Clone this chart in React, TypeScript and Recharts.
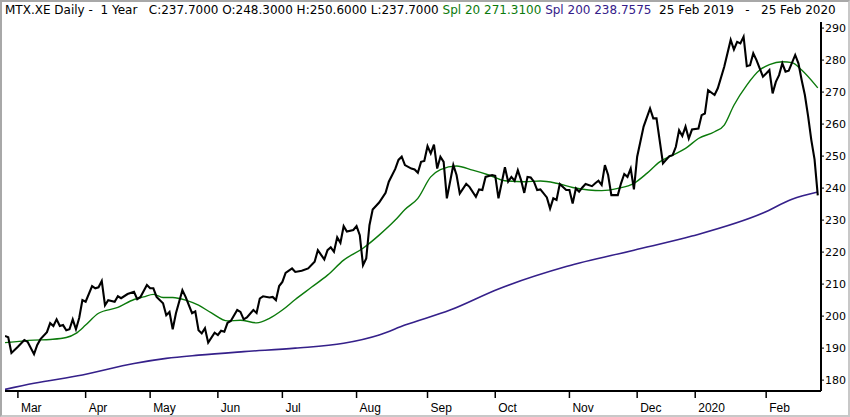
import { LineChart, Line, XAxis, YAxis } from "recharts";

// [trading day index, value] (day 0 = 25 Feb 2019)
const closePts: [number, number][] = [
  [0, 193.8], [1, 193.4], [2, 188.5], [4, 190.4], [6, 192.5], [7, 192], [9, 188.1], [10, 191],
  [11, 192.8], [13, 195], [14, 197.8], [15, 196.9], [16, 199], [17, 196.9], [18, 197.2], [19, 195.6],
  [20, 195.9], [21, 199], [22, 195.9], [23, 199.4], [24, 205], [25, 204.5], [27, 209.4], [28, 208.7],
  [29, 209], [30, 211], [31, 203.4], [32, 205], [34, 204.5], [35, 206.2], [36, 205.6], [38, 206.9],
  [40, 207.6], [41, 205.3], [42, 206], [44, 209.7], [45, 208.7], [46, 208.7], [47, 206], [49, 204],
  [50, 200.3], [51, 201.3], [52, 195.9], [53, 200.9], [55, 208.1], [56, 206], [57, 203.4], [58, 200.9],
  [59, 201.5], [60, 195.6], [61, 194.6], [62, 196.2], [63, 191.7], [65, 194.8], [66, 194.1], [67, 195.4],
  [68, 195.1], [69, 197.9], [70, 198.5], [72, 201.9], [73, 201.3], [74, 199], [75, 199.6], [77, 201.9],
  [78, 201], [79, 205.5], [80, 206.2], [82, 205.8], [83, 206], [84, 205], [85, 209.4], [86, 210.7],
  [87, 213.5], [89, 214.9], [90, 213.8], [92, 214.2], [94, 214.9], [96, 217], [97, 220.6], [99, 217.7],
  [100, 220.6], [101, 221.5], [102, 220.1], [103, 224.6], [104, 222.9], [105, 228.1], [106, 226.4],
  [108, 226.9], [109, 228.1], [110, 225.3], [111, 215.9], [112, 218], [113, 228.4], [114, 233.3],
  [116, 235.5], [118, 238.5], [119, 242], [121, 246], [122, 248.8], [123, 249.8], [124, 247.2],
  [126, 246.1], [127, 245.8], [128, 244.8], [129, 248.2], [130, 248.5], [131, 253.1], [132, 250.8],
  [133, 253.6], [134, 246.1], [135, 249.8], [136, 248.2], [137, 236.8], [139, 247.2], [140, 244.1],
  [141, 238.3], [143, 241.3], [144, 240.4], [146, 237.3], [147, 239.6], [148, 239.4], [149, 243.5],
  [151, 244.1], [152, 243.8], [153, 236.8], [155, 246.5], [156, 242], [157, 243.5], [158, 242.3],
  [159, 245.6], [160, 242.5], [161, 238.5], [162, 243.5], [163, 243.3], [164, 242], [165, 239.4],
  [166, 239.6], [168, 237.1], [169, 233.6], [170, 236.8], [171, 236.3], [172, 241.3], [174, 239.4],
  [175, 239.4], [176, 235.2], [177, 239.9], [178, 238.9], [179, 240.2], [180, 241.3], [182, 240.6],
  [183, 241.5], [184, 242.3], [185, 241], [186, 247.2], [187, 244.1], [188, 237.8], [190, 237.8],
  [191, 241.5], [192, 244.4], [193, 243.5], [194, 246.1], [195, 239.6], [196, 249.8], [198, 259.2],
  [200, 264.9], [201, 261.8], [202, 261.8], [204, 247.7], [206, 250], [207, 250.3], [208, 252.9],
  [209, 258.1], [210, 256.3], [211, 259.2], [212, 255.5], [213, 258.3], [215, 258.6], [216, 262.8],
  [217, 263.3], [218, 270.6], [220, 269.1], [221, 271.2], [223, 277.9], [225, 286.3], [226, 283.3],
  [227, 285.7], [228, 285.2], [229, 287.3], [230, 278.1], [231, 278.4], [232, 282.1], [233, 280],
  [235, 274.8], [236, 275.8], [237, 276.9], [238, 269.6], [239, 273.2], [240, 275.3], [241, 279],
  [242, 276.4], [243, 276.7], [245, 281.6], [246, 279], [247, 273.8], [248, 269.1], [249, 262.5],
  [250, 255], [251, 249], [252, 237.7],
];

const spl20Pts: [number, number][] = [
  [0, 191.7], [9, 192.5], [14, 192.7], [19, 193.3], [22, 194.6], [25, 197.2], [29, 200.9], [35, 202.7],
  [40, 205.2], [43, 206], [46, 206.8], [49, 205.8], [52, 205.8], [56, 205], [60, 203.4], [64, 201],
  [69, 198.5], [73, 198.7], [78, 197.9], [82, 199.3], [86, 201.9], [90, 205.2], [95, 209], [100, 212.8],
  [105, 217.5], [111, 221.2], [116, 225.3], [121, 230], [124, 233.3], [128, 236.8], [132, 243.5],
  [135, 245.8], [140, 246.9], [145, 245.6], [150, 244.1], [155, 242.3], [161, 242], [166, 242.2],
  [171, 241.5], [176, 240.2], [181, 239.4], [185, 239.2], [190, 239.9], [195, 241.5], [199, 244.6],
  [203, 248.2], [207, 250.3], [211, 252.4], [215, 255.5], [220, 257.6], [223, 259.7], [226, 265.9],
  [230, 272.2], [234, 276.9], [237, 278.6], [241, 279.5], [244, 279.2], [247, 276.9], [252, 271.31],
];

const spl200Pts: [number, number][] = [
  [0, 177.1], [9, 179], [24, 181.6], [40, 185.2], [50, 186.8], [60, 187.8], [74, 188.9], [90, 190],
  [105, 191.5], [116, 194.1], [124, 197.2], [138, 201.9], [153, 208.5], [174, 215.5], [195, 220.6],
  [213, 225], [235, 232.2], [244, 236.5], [252, 238.76],
];

const monthTicks = [4, 25, 45, 66, 86, 109, 131, 152, 175, 196, 214, 236];
const monthLabels = ["Mar", "Apr", "May", "Jun", "Jul", "Aug", "Sep", "Oct", "Nov", "Dec", "2020", "Feb"];
const priceTicks = [180, 190, 200, 210, 220, 230, 240, 250, 260, 270, 280, 290];

type Row = { day: number; close?: number; spl20?: number; spl200?: number };

const rowMap = new Map<number, Row>();
const put = (pts: [number, number][], key: "close" | "spl20" | "spl200") => {
  pts.forEach(([d, v]) => {
    const r = rowMap.get(d) ?? { day: d };
    r[key] = v;
    rowMap.set(d, r);
  });
};
put(closePts, "close");
put(spl20Pts, "spl20");
put(spl200Pts, "spl200");
const rows = [...rowMap.values()].sort((a, b) => a.day - b.day);

const FONT = "'DejaVu Sans', Verdana, sans-serif";
const GREEN = "#0b7a0b";
const PURPLE = "#35208a";

function XTick({ x, y, payload }: any) {
  const i = monthTicks.indexOf(payload.value);
  return (
    <text x={x + 3} y={y + 13.5} fontSize={12} fontFamily="'Liberation Sans Narrow', 'Liberation Sans', sans-serif" fill="#000" textAnchor="start">
      {monthLabels[i]}
    </text>
  );
}

function YTick({ x, y, payload }: any) {
  return (
    <text x={x} y={y + 4} fontSize={11} fontFamily={FONT} fill="#000" textAnchor="start">
      {payload.value}
    </text>
  );
}

export default function App() {
  return (
    <div style={{ position: "absolute", left: 0, top: 0, width: 850, height: 417, background: "#fff", overflow: "hidden" }}>
      <div style={{ position: "absolute", left: 5, top: 3, fontSize: 12, fontFamily: FONT, whiteSpace: "pre", lineHeight: "14px", color: "#000" }}>
        {"MTX.XE Daily -  1 Year   C:237.7000 O:248.3000 H:250.6000 L:237.7000 "}
        <span style={{ color: GREEN }}>Spl 20 271.3100</span>{" "}
        <span style={{ color: PURPLE }}>Spl 200 238.7575</span>
        {"  25 Feb 2019   -   25 Feb 2020"}
      </div>

      <div style={{ position: "absolute", left: 0, top: 0 }}>
        <LineChart width={850} height={417} data={rows} margin={{ top: 22, right: 0, left: 5, bottom: 0 }}>
          <XAxis
            dataKey="day"
            type="number"
            domain={[0, 253]}
            allowDataOverflow
            ticks={monthTicks}
            interval={0}
            tick={<XTick />}
            tickSize={7}
            tickMargin={0}
            height={26}
            axisLine={{ stroke: "#000", strokeWidth: 2 }}
            tickLine={{ stroke: "#000", strokeWidth: 1.5 }}
          />
          <YAxis
            orientation="right"
            type="number"
            domain={[176.6, 291.9]}
            allowDataOverflow
            ticks={priceTicks}
            interval={0}
            tick={<YTick />}
            tickSize={3}
            tickMargin={1}
            width={29}
            axisLine={{ stroke: "#000", strokeWidth: 2 }}
            tickLine={{ stroke: "#000", strokeWidth: 1 }}
          />
          <Line dataKey="spl200" type="monotone" stroke={PURPLE} strokeWidth={1.6} dot={false} connectNulls isAnimationActive={false} />
          <Line dataKey="spl20" type="monotone" stroke={GREEN} strokeWidth={1.4} dot={false} connectNulls isAnimationActive={false} />
          <Line dataKey="close" type="linear" stroke="#000" strokeWidth={2.1} dot={false} connectNulls isAnimationActive={false} />
        </LineChart>
      </div>

      <div style={{ position: "absolute", left: 0, top: 0, width: 850, height: 417, boxSizing: "border-box", border: "2px solid #a8a8a8", borderRightColor: "#c8c8c8", borderBottomColor: "#c8c8c8", pointerEvents: "none" }} />
    </div>
  );
}
